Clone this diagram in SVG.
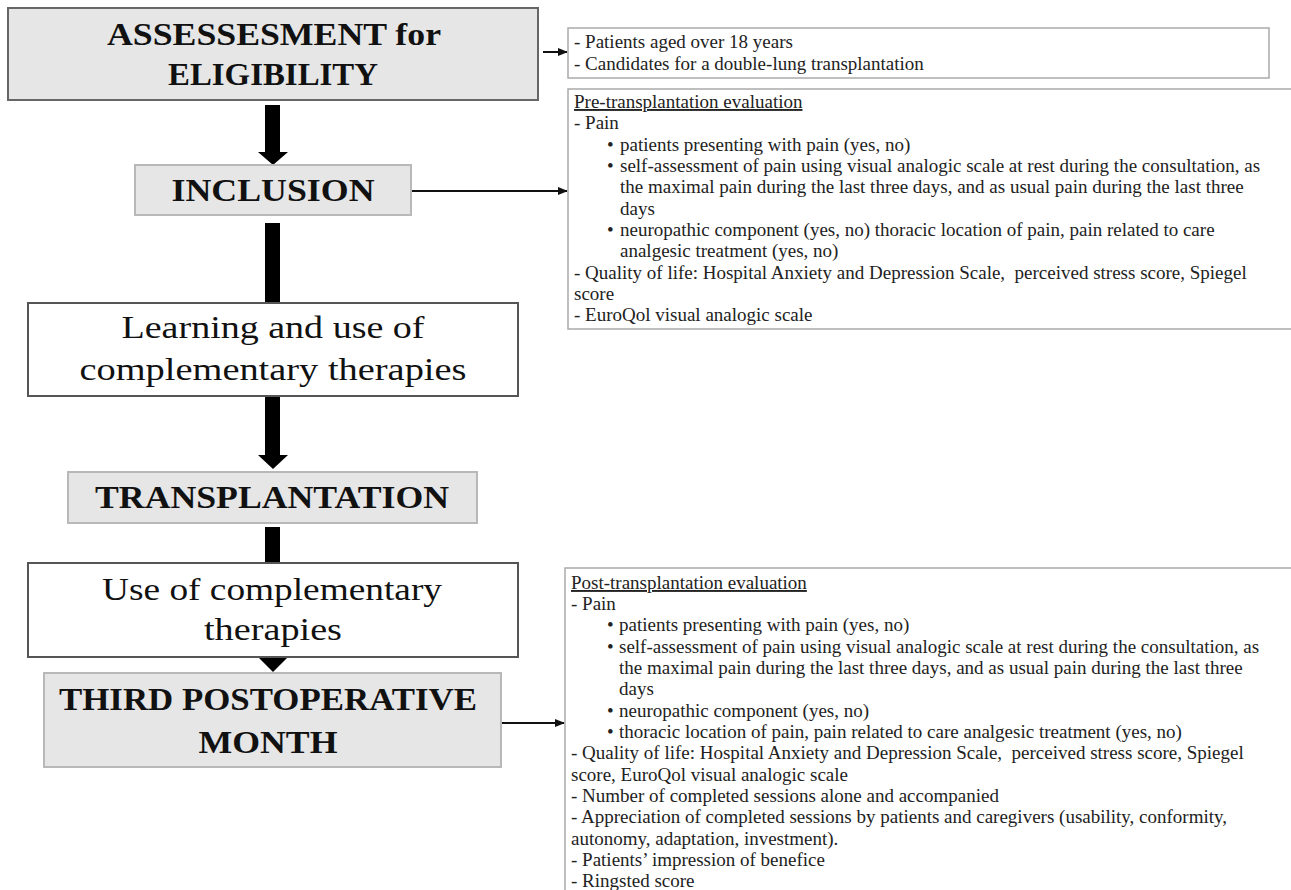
<svg xmlns="http://www.w3.org/2000/svg" width="1291" height="890" viewBox="0 0 1291 890">
<defs>
<style>
.gbox{fill:#e6e6e6;stroke:#b8b8b8;stroke-width:2}
.gbox-dark{fill:#e6e6e6;stroke:#666;stroke-width:2}
.wbox{fill:#fff;stroke:#555;stroke-width:2}
.tbox{fill:#fff;stroke:#aaa;stroke-width:1.5}
.tb{font-family:"Liberation Serif","Times New Roman",serif;font-weight:bold;font-size:32px;fill:#111;text-anchor:middle}
.tr{font-family:"Liberation Serif","Times New Roman",serif;font-size:32px;fill:#111;text-anchor:middle}
.t{font-family:"Liberation Serif","Times New Roman",serif;font-size:19px;fill:#222}
.thin{stroke:#111;stroke-width:2;fill:none}
.thick{fill:#000}
</style>
<marker id="ah" markerUnits="userSpaceOnUse" markerWidth="10" markerHeight="8" refX="9" refY="4" orient="auto">
<path d="M0,0 L10,4 L0,8 z" fill="#111"/>
</marker>
</defs>
<rect width="1291" height="890" fill="#fff"/>

<g id="connectors">
<rect class="thick" x="265" y="105" width="15" height="47"/>
<polygon class="thick" points="258,152 288,152 273,165"/>
<rect class="thick" x="265" y="223" width="15" height="80"/>
<rect class="thick" x="265" y="396" width="15" height="59"/>
<polygon class="thick" points="258,455 288,455 273,469"/>
<rect class="thick" x="265" y="527" width="15" height="36"/>
<polygon class="thick" points="258,657 288,657 273,672"/>
<line class="thin" x1="543" y1="52" x2="567" y2="52" marker-end="url(#ah)"/>
<line class="thin" x1="411" y1="191" x2="567" y2="191" marker-end="url(#ah)"/>
<line class="thin" x1="501" y1="723" x2="564" y2="723" marker-end="url(#ah)"/>
</g>

<g id="assessment">
<rect class="gbox-dark" x="8" y="8" width="530" height="92"/>
<text class="tb" x="274" y="45" textLength="334" lengthAdjust="spacingAndGlyphs">ASSESSESMENT for</text>
<text class="tb" x="273" y="85" textLength="210" lengthAdjust="spacingAndGlyphs">ELIGIBILITY</text>
</g>

<g id="inclusion">
<rect class="gbox" x="135" y="165" width="276" height="50"/>
<text class="tb" x="273" y="201" textLength="203" lengthAdjust="spacingAndGlyphs">INCLUSION</text>
</g>

<g id="learning">
<rect class="wbox" x="28" y="303" width="490" height="93"/>
<text class="tr" x="273" y="338" textLength="303" lengthAdjust="spacingAndGlyphs">Learning and use of</text>
<text class="tr" x="273" y="380" textLength="387" lengthAdjust="spacingAndGlyphs">complementary therapies</text>
</g>

<g id="transplantation">
<rect class="gbox" x="68" y="472" width="409" height="51"/>
<text class="tb" x="272" y="508" textLength="354" lengthAdjust="spacingAndGlyphs">TRANSPLANTATION</text>
</g>

<g id="use">
<rect class="wbox" x="28" y="563" width="490" height="94"/>
<text class="tr" x="272" y="600" textLength="340" lengthAdjust="spacingAndGlyphs">Use of complementary</text>
<text class="tr" x="273" y="640" textLength="138" lengthAdjust="spacingAndGlyphs">therapies</text>
</g>

<g id="third-month">
<rect class="gbox" x="44" y="673" width="457" height="94"/>
<text class="tb" x="268" y="710" textLength="418" lengthAdjust="spacingAndGlyphs">THIRD POSTOPERATIVE</text>
<text class="tb" x="268" y="753" textLength="139" lengthAdjust="spacingAndGlyphs">MONTH</text>
</g>

<g id="criteria">
<rect class="tbox" x="568" y="28" width="701" height="50"/>
<text class="t" x="574" y="48">- Patients aged over 18 years</text>
<text class="t" x="574" y="70">- Candidates for a double-lung transplantation</text>
</g>

<g id="pre-evaluation">
<rect class="tbox" x="568" y="89" width="730" height="240"/>
<text class="t" x="574" y="108" text-decoration="underline">Pre-transplantation evaluation</text>
<text class="t" x="574" y="129">- Pain</text>
<text class="t" x="607" y="151">•</text><text class="t" x="620" y="151">patients presenting with pain (yes, no)</text>
<text class="t" x="607" y="172">•</text><text class="t" x="620" y="172">self-assessment of pain using visual analogic scale at rest during the consultation, as</text>
<text class="t" x="620" y="193">the maximal pain during the last three days, and as usual pain during the last three</text>
<text class="t" x="620" y="215">days</text>
<text class="t" x="607" y="236">•</text><text class="t" x="620" y="236">neuropathic component (yes, no) thoracic location of pain, pain related to care</text>
<text class="t" x="620" y="257">analgesic treatment (yes, no)</text>
<text class="t" x="574" y="279" xml:space="preserve">- Quality of life: Hospital Anxiety and Depression Scale,  perceived stress score, Spiegel</text>
<text class="t" x="574" y="300">score</text>
<text class="t" x="574" y="321">- EuroQol visual analogic scale</text>
</g>

<g id="post-evaluation">
<rect class="tbox" x="565" y="568" width="733" height="330"/>
<text class="t" x="571" y="589" text-decoration="underline">Post-transplantation evaluation</text>
<text class="t" x="571" y="610">- Pain</text>
<text class="t" x="607" y="631">•</text><text class="t" x="619" y="631">patients presenting with pain (yes, no)</text>
<text class="t" x="607" y="653">•</text><text class="t" x="619" y="653">self-assessment of pain using visual analogic scale at rest during the consultation, as</text>
<text class="t" x="619" y="674">the maximal pain during the last three days, and as usual pain during the last three</text>
<text class="t" x="619" y="695">days</text>
<text class="t" x="607" y="717">•</text><text class="t" x="619" y="717">neuropathic component (yes, no)</text>
<text class="t" x="607" y="738">•</text><text class="t" x="619" y="738">thoracic location of pain, pain related to care analgesic treatment (yes, no)</text>
<text class="t" x="571" y="759" xml:space="preserve">- Quality of life: Hospital Anxiety and Depression Scale,  perceived stress score, Spiegel</text>
<text class="t" x="571" y="781">score, EuroQol visual analogic scale</text>
<text class="t" x="571" y="802">- Number of completed sessions alone and accompanied</text>
<text class="t" x="571" y="823">- Appreciation of completed sessions by patients and caregivers (usability, conformity,</text>
<text class="t" x="571" y="845">autonomy, adaptation, investment).</text>
<text class="t" x="571" y="866">- Patients’ impression of benefice</text>
<text class="t" x="571" y="887">- Ringsted score</text>
</g>
</svg>
